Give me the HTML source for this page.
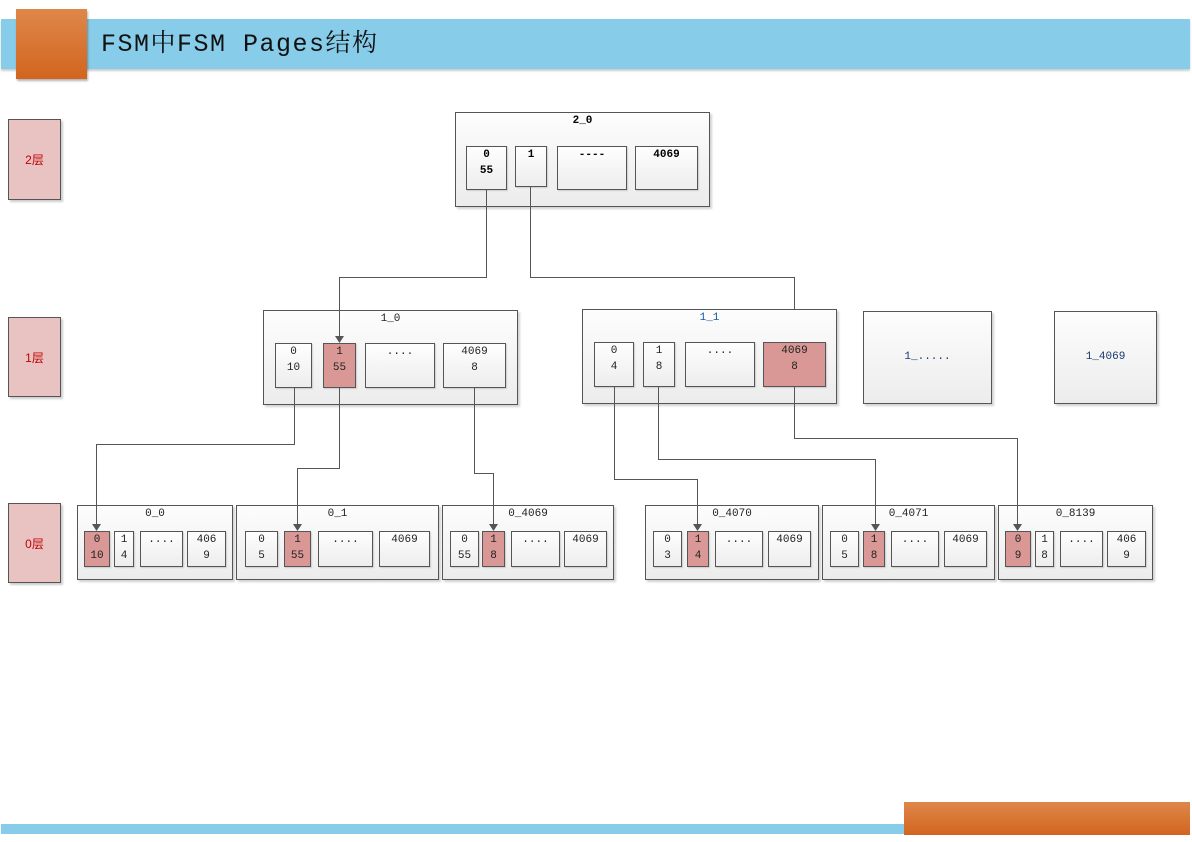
<!DOCTYPE html>
<html><head><meta charset="utf-8"><style>
body{margin:0;width:1192px;height:842px;position:relative;background:#fff;overflow:hidden;font-family:"Liberation Mono","Noto Sans CJK SC",monospace;}
.a{position:absolute;box-sizing:border-box;}
.box{border:1px solid #555;background:linear-gradient(#fdfdfd,#ececec);box-shadow:2px 2px 2px rgba(0,0,0,0.18);}
.c{border:1px solid #555;background:linear-gradient(#fefefe,#ededed);box-shadow:1px 1px 1px rgba(0,0,0,0.15);font-size:11px;color:#222;text-align:center;line-height:16px;padding-top:0px;}
.p{background:#d99896;}
.t{font-size:11px;color:#222;text-align:center;line-height:14px;}
.lv{border:1px solid #555;background:#e9c3c2;box-shadow:2px 2px 2px rgba(0,0,0,0.2);color:#c00000;font-size:12px;font-family:"Liberation Sans","Noto Sans CJK SC",sans-serif;display:flex;align-items:center;justify-content:center;}
.b{font-weight:bold;color:#000;}
</style></head><body>
<div class="a" style="left:1px;top:19px;width:1189px;height:50px;background:#87cce9;box-shadow:0 2px 2px rgba(0,0,0,0.2)"></div>
<div class="a" style="left:16px;top:9px;width:71px;height:70px;background:linear-gradient(#de874a,#d2651f);box-shadow:1px 2px 2px rgba(0,0,0,0.3)"></div>
<div class="a" style="left:101px;top:30px;font-size:25px;letter-spacing:1.5px;line-height:30px;color:#111;font-family:'Liberation Mono','Noto Serif CJK SC',monospace;white-space:nowrap">FSM中FSM Pages结构</div>
<div class="a" style="left:1px;top:824px;width:1189px;height:10px;background:#87cce9"></div>
<div class="a" style="left:904px;top:802px;width:286px;height:33px;background:linear-gradient(#de874a,#d2651f)"></div>

<div class="a lv" style="left:8px;top:119px;width:53px;height:81px">2层</div>
<div class="a lv" style="left:8px;top:317px;width:53px;height:80px">1层</div>
<div class="a lv" style="left:8px;top:503px;width:53px;height:80px">0层</div>

<div class="a box" style="left:455px;top:112px;width:255px;height:95px"></div>
<div class="a t b" style="left:455px;top:114px;width:255px">2_0</div>
<div class="a c b" style="left:466px;top:146px;width:41px;height:44px">0<br>55</div>
<div class="a c b" style="left:515px;top:146px;width:32px;height:41px">1</div>
<div class="a c b" style="left:557px;top:146px;width:70px;height:44px">----</div>
<div class="a c b" style="left:635px;top:146px;width:63px;height:44px">4069</div>

<div class="a box" style="left:263px;top:310px;width:255px;height:95px"></div>
<div class="a t" style="left:263px;top:312px;width:255px">1_0</div>
<div class="a c" style="left:275px;top:343px;width:37px;height:45px">0<br>10</div>
<div class="a c p" style="left:323px;top:343px;width:33px;height:45px">1<br>55</div>
<div class="a c" style="left:365px;top:343px;width:70px;height:45px">....</div>
<div class="a c" style="left:443px;top:343px;width:63px;height:45px">4069<br>8</div>

<div class="a box" style="left:582px;top:309px;width:255px;height:95px"></div>
<div class="a t" style="left:582px;top:311px;width:255px;color:#1a5aa0">1_1</div>
<div class="a c" style="left:594px;top:342px;width:40px;height:45px">0<br>4</div>
<div class="a c" style="left:643px;top:342px;width:32px;height:45px">1<br>8</div>
<div class="a c" style="left:685px;top:342px;width:70px;height:45px">....</div>
<div class="a c p" style="left:763px;top:342px;width:63px;height:45px">4069<br>8</div>

<div class="a box t" style="left:863px;top:311px;width:129px;height:93px;line-height:91px;color:#1a3a70">1_.....</div>
<div class="a box t" style="left:1054px;top:311px;width:103px;height:93px;line-height:91px;color:#1a3a70">1_4069</div>

<div class="a box" style="left:77px;top:505px;width:156px;height:75px"></div>
<div class="a t" style="left:77px;top:507px;width:156px">0_0</div>
<div class="a c p" style="left:84px;top:531px;width:26px;height:36px">0<br>10</div>
<div class="a c" style="left:114px;top:531px;width:20px;height:36px">1<br>4</div>
<div class="a c" style="left:140px;top:531px;width:43px;height:36px">....</div>
<div class="a c" style="left:187px;top:531px;width:39px;height:36px">406<br>9</div>

<div class="a box" style="left:236px;top:505px;width:203px;height:75px"></div>
<div class="a t" style="left:236px;top:507px;width:203px">0_1</div>
<div class="a c" style="left:245px;top:531px;width:33px;height:36px">0<br>5</div>
<div class="a c p" style="left:284px;top:531px;width:27px;height:36px">1<br>55</div>
<div class="a c" style="left:318px;top:531px;width:55px;height:36px">....</div>
<div class="a c" style="left:379px;top:531px;width:51px;height:36px">4069</div>

<div class="a box" style="left:442px;top:505px;width:172px;height:75px"></div>
<div class="a t" style="left:442px;top:507px;width:172px">0_4069</div>
<div class="a c" style="left:450px;top:531px;width:29px;height:36px">0<br>55</div>
<div class="a c p" style="left:482px;top:531px;width:23px;height:36px">1<br>8</div>
<div class="a c" style="left:511px;top:531px;width:49px;height:36px">....</div>
<div class="a c" style="left:564px;top:531px;width:43px;height:36px">4069</div>

<div class="a box" style="left:645px;top:505px;width:174px;height:75px"></div>
<div class="a t" style="left:645px;top:507px;width:174px">0_4070</div>
<div class="a c" style="left:653px;top:531px;width:29px;height:36px">0<br>3</div>
<div class="a c p" style="left:687px;top:531px;width:22px;height:36px">1<br>4</div>
<div class="a c" style="left:715px;top:531px;width:48px;height:36px">....</div>
<div class="a c" style="left:768px;top:531px;width:43px;height:36px">4069</div>

<div class="a box" style="left:822px;top:505px;width:173px;height:75px"></div>
<div class="a t" style="left:822px;top:507px;width:173px">0_4071</div>
<div class="a c" style="left:830px;top:531px;width:29px;height:36px">0<br>5</div>
<div class="a c p" style="left:863px;top:531px;width:22px;height:36px">1<br>8</div>
<div class="a c" style="left:891px;top:531px;width:48px;height:36px">....</div>
<div class="a c" style="left:944px;top:531px;width:43px;height:36px">4069</div>

<div class="a box" style="left:998px;top:505px;width:155px;height:75px"></div>
<div class="a t" style="left:998px;top:507px;width:155px">0_8139</div>
<div class="a c p" style="left:1005px;top:531px;width:26px;height:36px">0<br>9</div>
<div class="a c" style="left:1035px;top:531px;width:19px;height:36px">1<br>8</div>
<div class="a c" style="left:1060px;top:531px;width:43px;height:36px">....</div>
<div class="a c" style="left:1107px;top:531px;width:39px;height:36px">406<br>9</div>

<svg class="a" style="left:0;top:0" width="1192" height="842">
<g fill="none" stroke="#555" stroke-width="1">
<polyline points="486.5,190 486.5,277.5 339.5,277.5 339.5,337"/>
<polyline points="530.5,187 530.5,277.5 794.5,277.5 794.5,309"/>
<polyline points="294.5,388 294.5,444.5 96.5,444.5 96.5,525"/>
<polyline points="339.5,388 339.5,468.5 297.5,468.5 297.5,525"/>
<polyline points="474.5,388 474.5,473.5 493.5,473.5 493.5,525"/>
<polyline points="614.5,387 614.5,479.5 697.5,479.5 697.5,525"/>
<polyline points="658.5,387 658.5,459.5 875.5,459.5 875.5,525"/>
<polyline points="794.5,387 794.5,438.5 1017.5,438.5 1017.5,525"/>
</g>
<g fill="#555">
<polygon points="335,336 344,336 339.5,343"/>
<polygon points="92,524 101,524 96.5,531"/>
<polygon points="293,524 302,524 297.5,531"/>
<polygon points="489,524 498,524 493.5,531"/>
<polygon points="693,524 702,524 697.5,531"/>
<polygon points="871,524 880,524 875.5,531"/>
<polygon points="1013,524 1022,524 1017.5,531"/>
</g>
</svg>
</body></html>
